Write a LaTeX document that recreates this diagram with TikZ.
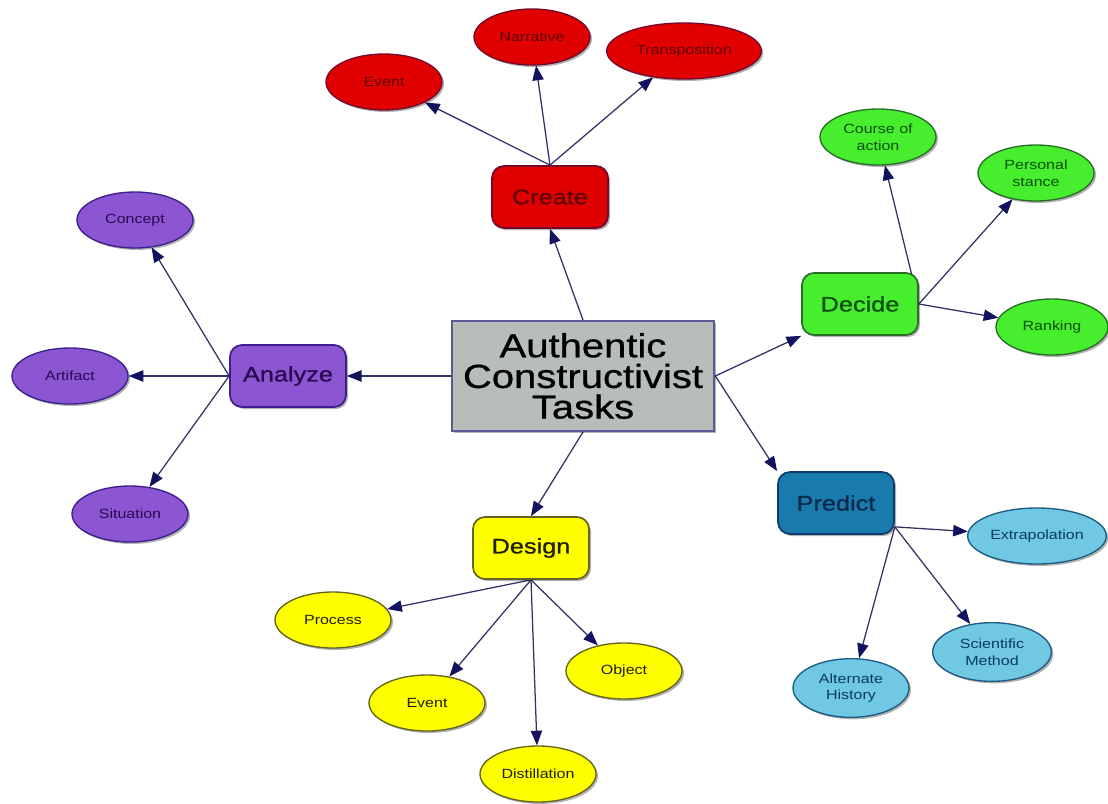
\documentclass[tikz,border=0pt]{standalone}
\usepackage{fontspec}
\setmainfont[FakeStretch=1.2]{Liberation Sans}
\newfontfamily\heavyfont[FakeStretch=1.2,FakeBold=0.8]{Liberation Sans}
\usetikzlibrary{arrows.meta,shapes.geometric,shadows,backgrounds}

\definecolor{linkcol}{RGB}{50,50,105}
\definecolor{tipcol}{RGB}{18,18,95}
\definecolor{actsfill}{RGB}{183,190,186}
\definecolor{actsline}{RGB}{90,90,150}
\definecolor{crefill}{RGB}{225,0,0}
\definecolor{creline}{RGB}{115,10,45}
\definecolor{cretext}{RGB}{95,0,0}
\definecolor{decfill}{RGB}{70,238,45}
\definecolor{decline}{RGB}{40,110,40}
\definecolor{dectext}{RGB}{10,80,10}
\definecolor{anafill}{RGB}{140,85,210}
\definecolor{analine}{RGB}{60,30,140}
\definecolor{anatext}{RGB}{40,10,80}
\definecolor{desfill}{RGB}{255,255,0}
\definecolor{desline}{RGB}{100,100,30}
\definecolor{destext}{RGB}{30,30,0}
\definecolor{prefill}{RGB}{25,122,172}
\definecolor{preline}{RGB}{12,60,110}
\definecolor{pretext}{RGB}{10,40,75}
\definecolor{leaffill}{RGB}{112,200,226}
\definecolor{leafline}{RGB}{30,90,130}
\definecolor{leaftext}{RGB}{10,60,90}

\begin{document}
\begin{tikzpicture}[x=0.75pt,y=0.75pt,yscale=-1,
    link/.style={draw=linkcol,line width=0.95pt,-{Triangle[length=11pt,width=8.5pt,color=tipcol]}},
    shade box/.style={drop shadow={shadow xshift=1.5pt,shadow yshift=-1.5pt,opacity=0.3,fill=black}},
    topic/.style={rounded corners=9pt,minimum width=87pt,minimum height=46.5pt,line width=1.3pt,shade box,
        font=\heavyfont\fontsize{15.8}{19}\selectfont},
    leaf/.style={ellipse,inner sep=0pt,minimum width=87pt,minimum height=42pt,line width=1pt,shade box,
        align=center,font=\fontsize{10}{12.5}\selectfont},
    crecol/.style={fill=crefill,draw=creline,text=cretext},
    deccol/.style={fill=decfill,draw=decline,text=dectext},
    anacol/.style={fill=anafill,draw=analine,text=anatext},
    descol/.style={fill=desfill,draw=desline,text=destext},
    precol/.style={fill=prefill,draw=preline,text=pretext},
    bluecol/.style={fill=leaffill,draw=leafline,text=leaftext}
]
\useasboundingbox (0,0) rectangle (1108,804);

%Shape: Rectangle [center]
\node (acts) [fill=actsfill,draw=actsline,line width=1.5pt,minimum width=197pt,minimum height=82.5pt,shade box,
    align=center,font=\heavyfont\fontsize{25}{23}\selectfont] at (583,376) {Authentic\\Constructivist\\Tasks};

%Shape: Rounded Rect
\node (create) [topic,crecol] at (550,197) {Create};
\node (decide) [topic,deccol] at (860,304) {Decide};
\node (analyze) [topic,anacol] at (288,376) {Analyze};
\node (design) [topic,descol] at (531,548) {Design};
\node (predict) [topic,precol] at (836,503) {Predict};

%Shape: Ellipse [create]
\node (evt1) [leaf,crecol] at (384,82) {Event};
\node (narr) [leaf,crecol] at (532,37) {Narrative};
\node (trans) [leaf,crecol,minimum width=116pt] at (684,51) {Transposition};

%Shape: Ellipse [decide]
\node (course) [leaf,deccol] at (878,137) {Course of\\action};
\node (stance) [leaf,deccol] at (1036,173) {Personal\\stance};
\node (rank) [leaf,deccol,minimum width=84pt] at (1052,327) {Ranking};

%Shape: Ellipse [analyze]
\node (concept) [leaf,anacol] at (135,220) {Concept};
\node (artif) [leaf,anacol] at (70,376) {Artifact};
\node (situ) [leaf,anacol] at (130,514) {Situation};

%Shape: Ellipse [design]
\node (proc) [leaf,descol] at (333,620) {Process};
\node (evt2) [leaf,descol] at (427,703) {Event};
\node (distil) [leaf,descol] at (538,774) {Distillation};
\node (obj) [leaf,descol] at (624,671) {Object};

%Shape: Ellipse [predict]
\node (extra) [leaf,bluecol,minimum width=104pt] at (1037,536) {Extrapolation};
\node (sci) [leaf,bluecol,minimum width=89pt,minimum height=44pt] at (992,652) {Scientific\\Method};
\node (alt) [leaf,bluecol,minimum height=44pt] at (851,688) {Alternate\\History};

%Straight Lines
\begin{scope}[on background layer]
\draw [link] (acts.north) -- (create.south);
\draw [link] (acts.west) -- (analyze.east);
\draw [link] (acts.east) -- (decide.south west);
\draw [link] (acts.east) -- (predict.north west);
\draw [link] (acts.south) -- (design.north);

\foreach \leafname in {evt1,narr,trans}
    \draw [link] (create.north) -- (\leafname);
\foreach \leafname in {course,stance,rank}
    \draw [link] (decide.east) -- (\leafname);
\foreach \leafname in {concept,artif,situ}
    \draw [link] (analyze.west) -- (\leafname);
\foreach \leafname in {proc,evt2,distil,obj}
    \draw [link] (design.south) -- (\leafname);
\foreach \leafname in {extra,sci,alt}
    \draw [link] ([yshift=-6pt]predict.south east) -- (\leafname);
\end{scope}

\end{tikzpicture}
\end{document}
